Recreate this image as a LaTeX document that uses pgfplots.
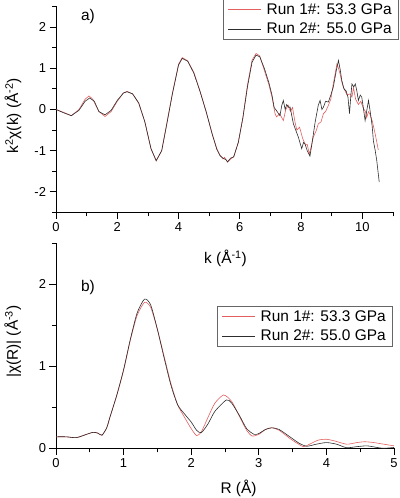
\documentclass[border=0pt]{standalone}
\usepackage{fontspec}
\setmainfont{Liberation Sans}
\usepackage{pgfplots}
\pgfplotsset{compat=1.18}
\definecolor{runred}{RGB}{228,95,95}
\definecolor{runblack}{RGB}{45,45,45}
\pgfplotsset{
 common/.style={
  scale only axis,
  axis x line*=bottom, axis y line*=left,
  axis line style={line width=0.8bp, black},
  tick align=outside,
  major tick length=6.5bp, minor tick length=4bp,
  every tick/.style={black, line width=0.8bp},
  /pgf/number format/assume math mode=true,
  tick label style={font=\fontsize{13}{13}\selectfont},
  label style={font=\fontsize{15.5}{16}\selectfont},
  legend style={font=\fontsize{15.5}{16}\selectfont, draw=black!60, line width=0.8bp,
    inner xsep=5bp, inner ysep=2bp, row sep=3bp, column sep=3bp,
    nodes={inner sep=2bp}},
  legend cell align=left,
  legend image code/.code={\draw[#1] (0bp,0bp) -- (33bp,0bp);},
 },
 red run/.style={color=runred, line width=0.6bp},
 black run/.style={color=runblack, line width=0.6bp},
}
\begin{document}
\begin{tikzpicture}
\path[use as bounding box] (0,0) rectangle (400bp,498bp);
% ---------------- panel a
\begin{axis}[common,
  at={(56bp,285.5bp)}, anchor=south west,
  width=337bp, height=206bp,
  xmin=0, xmax=11, ymin=-2.5, ymax=2.5,
  xtick={0,2,4,6,8,10}, minor xtick={1,3,5,7,9,11},
  ytick={-2,-1,0,1,2}, minor ytick={-2.5,-1.5,-0.5,0.5,1.5,2.5},
  xlabel={k (Å\textsuperscript{-1})},
  ylabel={k\textsuperscript{2}χ(k) (Å\textsuperscript{-2})},
  x label style={at={(axis description cs:0.503,-0.222)}, anchor=center},
  y label style={at={(axis description cs:-0.128,0.47)}, anchor=center},
  legend style={at={(axis description cs:0.4947,1.036)}, anchor=north west},
]
\addplot[red run] coordinates {
(0,0) (0.25,-0.07) (0.5,-0.15) (0.75,0.0) (0.95,0.25) (1.08,0.33) (1.2,0.25) (1.4,-0.05) (1.6,-0.17) (1.8,-0.05)
(2.0,0.2) (2.2,0.4) (2.32,0.44) (2.5,0.38) (2.7,0.15) (2.9,-0.3) (3.1,-0.95) (3.27,-1.25) (3.45,-1.0) (3.6,-0.4)
(3.8,0.4) (4.0,1.1) (4.12,1.26) (4.3,1.18) (4.5,0.9) (4.7,0.45) (4.9,-0.05) (5.1,-0.6) (5.25,-0.95) (5.35,-1.1)
(5.45,-1.2) (5.5,-1.16) (5.6,-1.28) (5.7,-1.2) (5.8,-1.15) (5.95,-0.8) (6.1,-0.2) (6.25,0.6) (6.4,1.2) (6.53,1.36)
(6.65,1.3) (6.8,0.95) (6.95,0.6) (7.05,0.3) (7.15,-0.1) (7.2,-0.18) (7.3,-0.1) (7.42,-0.27) (7.5,0.0) (7.58,0.1)
(7.65,-0.05) (7.72,0.05) (7.8,-0.3) (7.86,-0.5) (7.95,-0.43) (8.05,-0.7) (8.13,-0.84) (8.2,-0.85) (8.27,-1.08) (8.33,-0.9)
(8.4,-0.67) (8.5,-0.5) (8.56,-0.35) (8.65,-0.3) (8.73,-0.1) (8.8,-0.05) (8.89,0.1) (8.97,0.25) (9.05,0.62) (9.12,0.9)
(9.17,1.11) (9.22,1.0) (9.27,0.87) (9.35,0.6) (9.43,0.46) (9.5,0.35) (9.6,0.38) (9.66,0.3) (9.71,0.53) (9.78,0.25)
(9.87,0.12) (9.95,0.2) (10.03,0.03) (10.1,-0.05) (10.14,-0.2) (10.2,-0.05) (10.25,-0.12) (10.33,-0.3) (10.42,-0.6) (10.52,-0.98)
};
\addlegendentry{Run 1\#: 53.3 GPa}
\addplot[black run] coordinates {
(0,0) (0.25,-0.08) (0.5,-0.15) (0.75,-0.02) (0.95,0.2) (1.1,0.28) (1.25,0.2) (1.4,-0.05) (1.6,-0.13) (1.8,-0.02)
(2.0,0.22) (2.2,0.4) (2.32,0.43) (2.5,0.38) (2.7,0.16) (2.9,-0.3) (3.1,-0.95) (3.27,-1.24) (3.45,-1.0) (3.6,-0.42)
(3.8,0.38) (4.0,1.08) (4.12,1.24) (4.3,1.17) (4.5,0.88) (4.7,0.44) (4.9,-0.05) (5.1,-0.6) (5.25,-0.97) (5.35,-1.12)
(5.45,-1.18) (5.55,-1.22) (5.6,-1.27) (5.7,-1.18) (5.8,-1.15) (5.95,-0.8) (6.1,-0.2) (6.25,0.55) (6.4,1.15) (6.53,1.32)
(6.65,1.28) (6.8,1.0) (6.95,0.65) (7.05,0.35) (7.12,0.05) (7.2,-0.03) (7.31,-0.15) (7.37,0.1) (7.42,0.22) (7.48,0.0)
(7.53,0.12) (7.6,0.05) (7.64,0.06) (7.75,-0.35) (7.85,-0.55) (7.91,-0.67) (8.02,-0.95) (8.08,-0.8) (8.13,-0.84) (8.2,-1.0)
(8.29,-1.13) (8.35,-0.85) (8.4,-0.6) (8.46,-0.3) (8.51,-0.1) (8.56,0.1) (8.62,0.22) (8.68,0.0) (8.73,0.06) (8.8,0.2)
(8.89,0.18) (8.97,0.35) (9.05,0.54) (9.15,0.95) (9.22,1.19) (9.28,0.95) (9.33,0.7) (9.4,0.5) (9.47,0.45) (9.53,0.3)
(9.58,-0.1) (9.62,0.3) (9.66,0.62) (9.72,0.55) (9.77,0.62) (9.82,0.45) (9.87,0.22) (9.93,0.35) (9.98,0.30) (10.03,0.05)
(10.09,-0.27) (10.15,0.0) (10.2,0.22) (10.25,-0.02) (10.32,-0.4) (10.36,-0.76) (10.42,-1.0) (10.47,-1.24) (10.55,-1.76)
};
\addlegendentry{Run 2\#: 55.0 GPa}
\node[font=\fontsize{15.5}{16}\selectfont, anchor=center] at (rel axis cs:0.095,0.949) {a)};
\end{axis}
% ---------------- panel b
\begin{axis}[common,
  at={(56bp,49.7bp)}, anchor=south west,
  width=338bp, height=205bp,
  xmin=0, xmax=5, ymin=0, ymax=2.5,
  xtick={0,1,2,3,4,5}, minor xtick={0.5,1.5,2.5,3.5,4.5},
  ytick={0,1,2}, minor ytick={0.5,1.5,2.5},
  xlabel={R (Å)},
  ylabel={|χ(R)| (Å\textsuperscript{-3})},
  x label style={at={(axis description cs:0.54,-0.194)}, anchor=center},
  y label style={at={(axis description cs:-0.128,0.52)}, anchor=center},
  legend style={at={(axis description cs:0.4754,0.694)}, anchor=north west},
]
\addplot[red run, smooth, tension=0.4] coordinates {
(0,0.14) (0.15,0.14) (0.3,0.13) (0.45,0.17) (0.55,0.195) (0.62,0.185) (0.68,0.16) (0.75,0.25) (0.8,0.385) (0.9,0.65)
(1.0,0.95) (1.1,1.32) (1.2,1.62) (1.31,1.78) (1.4,1.72) (1.5,1.45) (1.6,1.12) (1.7,0.79) (1.8,0.53) (1.9,0.38)
(2.0,0.24) (2.08,0.155) (2.15,0.2) (2.25,0.38) (2.35,0.55) (2.48,0.65) (2.6,0.57) (2.72,0.38) (2.82,0.22) (2.9,0.15)
(3.0,0.17) (3.1,0.23) (3.19,0.25) (3.3,0.22) (3.46,0.12) (3.55,0.07) (3.66,0.02) (3.75,0.05) (3.88,0.1) (4.0,0.11)
(4.12,0.09) (4.3,0.05) (4.45,0.07) (4.57,0.08) (4.7,0.07) (4.85,0.05) (5.0,0.03)
};
\addlegendentry{Run 1\#: 53.3 GPa}
\addplot[black run, smooth, tension=0.4] coordinates {
(0,0.14) (0.15,0.14) (0.3,0.13) (0.45,0.17) (0.55,0.195) (0.62,0.185) (0.68,0.16) (0.75,0.25) (0.8,0.385) (0.9,0.65)
(1.0,0.96) (1.1,1.33) (1.2,1.65) (1.31,1.82) (1.4,1.75) (1.5,1.45) (1.6,1.1) (1.7,0.77) (1.8,0.53) (1.9,0.42)
(2.0,0.32) (2.08,0.22) (2.15,0.19) (2.25,0.3) (2.35,0.45) (2.52,0.59) (2.6,0.55) (2.72,0.39) (2.82,0.24) (2.93,0.17)
(3.0,0.18) (3.1,0.23) (3.19,0.25) (3.3,0.23) (3.46,0.14) (3.6,0.06) (3.71,0.025) (3.85,0.05) (4.0,0.07) (4.15,0.05)
(4.3,0.007) (4.45,0.02) (4.6,0.03) (4.75,0.01) (4.85,0.0) (5.0,0.01)
};
\addlegendentry{Run 2\#: 55.0 GPa}
\node[font=\fontsize{15.5}{16}\selectfont, anchor=center] at (rel axis cs:0.0947,0.782) {b)};
\end{axis}
\end{tikzpicture}
\end{document}
